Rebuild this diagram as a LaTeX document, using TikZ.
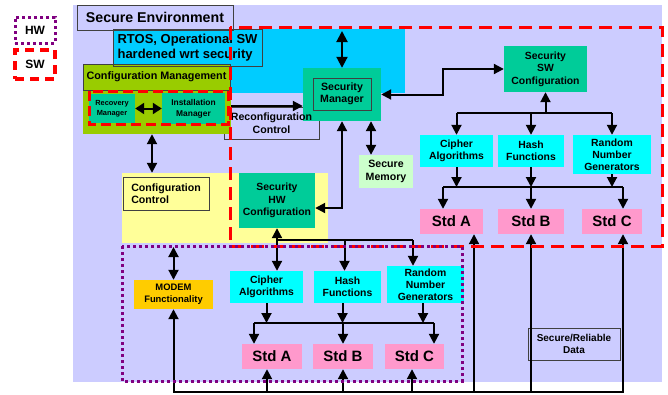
\documentclass[tikz,border=0pt]{standalone}
\usepackage{fontspec}
\setmainfont{Liberation Sans}
\usetikzlibrary{arrows.meta,calc}
\definecolor{lav}{HTML}{CCCCFF}
\definecolor{cyanA}{HTML}{00CCFF}
\definecolor{cyanB}{HTML}{00FFFF}
\definecolor{tealG}{HTML}{00CC99}
\definecolor{oliveG}{HTML}{99CC00}
\definecolor{yellowL}{HTML}{FFFF99}
\definecolor{pinkS}{HTML}{FF99CC}
\definecolor{orangeM}{HTML}{FFCC00}
\definecolor{memG}{HTML}{CCFFCC}
\definecolor{purpleH}{HTML}{800080}
\definecolor{redS}{HTML}{FF0000}
\newcommand\fs[2]{\fontsize{#1}{#2}\selectfont}
\newcommand\mybox[7]{\node[#6, minimum width={(#4-#2)*1pt}, minimum height={(#5-#3)*1pt}] (#1) at ({(#2+#4)/2},{(#3+#5)/2}) {#7};}
\begin{document}
\begin{tikzpicture}[x=1pt,y=-1pt,
  >={Triangle[length=10pt,width=10pt]},
  fb/.style={inner sep=0pt, align=center, font=\bfseries\fs{10.6}{12.5}},
  bd/.style={draw=black!75, line width=0.8pt},
  std/.style={fb, fill=pinkS, font=\bfseries\fs{15}{16}},
  alg/.style={fb, fill=cyanB, font=\bfseries\fs{10.4}{12}},
  con/.style={line width=2pt, draw=black},
  arr/.style={con, ->},
  dbl/.style={con, <->},
  swd/.style={draw=redS, line width=3pt, dash pattern=on 13pt off 7pt},
  hwd/.style={draw=purpleH, line width=3pt, dash pattern=on 3pt off 3pt}]
\useasboundingbox (0,0) rectangle (668,394);
\fill[white] (0,0) rectangle (668,394);
\fill[lav] (73,5) rectangle (662,382);
\fill[cyanA] (113,29) rectangle (405,93);
\mybox{reconf}{224}{107}{319}{139}{bd, inner sep=0pt}{}
\mybox{cmreg}{83}{64}{231}{134}{fill=oliveG, inner sep=0pt}{}
\mybox{ccreg}{122}{173}{328}{243}{fill=yellowL, inner sep=0pt}{}
\mybox{senv}{77}{5}{233}{30}{fb, bd, fill=lav, font=\bfseries\fs{14.2}{16}}{Secure Environment}
\mybox{rtos}{113}{29}{262}{66}{fb, bd, align=left, font=\bfseries\fs{13}{15.5}}{RTOS, Operational SW\\hardened wrt security}
\mybox{cmgmt}{83}{64}{230}{90}{fb, bd, font=\bfseries\fs{10.8}{12}}{Configuration Management}
\mybox{rec}{89}{94}{135}{123}{fb, fill=tealG, font=\bfseries\fs{7.4}{10}}{Recovery\\Manager}
\mybox{inst}{162}{93}{225}{124}{fb, fill=tealG, font=\bfseries\fs{8.4}{11}}{Installation\\Manager}
\mybox{smgr}{303}{68}{381}{121}{fill=tealG, inner sep=0pt}{}
\mybox{smgrin}{313}{78}{371}{110}{fb, bd}{Security\\Manager}
\node[fb] (reconftxt) at (reconf.center) {Reconfiguration\\Control};
\mybox{secsw}{504}{46}{587}{92}{fb, fill=tealG, font=\bfseries\fs{10.4}{12.5}}{Security\\SW\\Configuration}
\mybox{smem}{359}{155}{413}{188}{fb, fill=memG}{Secure\\Memory}
\mybox{cipA}{420}{135}{493}{167}{alg}{Cipher\\Algorithms}
\mybox{hashA}{498}{135}{564}{167}{alg}{Hash\\Functions}
\mybox{rngA}{573}{135}{651}{174}{alg}{Random\\Number\\Generators}
\mybox{sA}{420}{209}{483}{234}{std}{Std A}
\mybox{sB}{498}{209}{564}{234}{std}{Std B}
\mybox{sC}{582}{209}{642}{234}{std}{Std C}
\mybox{cctl}{123}{177}{209}{210}{fb, bd, align=left}{Configuration\\Control}
\mybox{sechw}{239}{173}{315}{228}{fb, fill=tealG, font=\bfseries\fs{10.4}{12.5}}{Security\\HW\\Configuration}
\mybox{modem}{134}{280}{213}{309}{fb, fill=orangeM, font=\bfseries\fs{9.4}{12}}{MODEM\\Functionality}
\mybox{cipB}{230}{271}{303}{303}{alg}{Cipher\\Algorithms}
\mybox{hashB}{314}{271}{381}{303}{alg}{Hash\\Functions}
\mybox{rngB}{387}{266}{464}{303}{alg}{Random\\Number\\Generators}
\mybox{hA}{242}{344}{302}{369}{std}{Std A}
\mybox{hB}{313}{344}{373}{369}{std}{Std B}
\mybox{hC}{385}{344}{444}{369}{std}{Std C}
\mybox{srd}{528}{328}{620}{360}{fb, bd, font=\bfseries\fs{10}{12.5}}{Secure/Reliable\\Data}
% connectors
\draw[con, <->, >={Triangle[length=9pt,width=11pt]}] (rec.east) -- (inst.west);
\draw[arr] (cmreg.east |- 0,106) -- (smgr.west |- 0,106);
\draw[dbl, >={Triangle[length=11pt,width=11pt]}] (smgr.north |- 0,31) -- (smgr.north);
\draw[dbl] (smgr.east) -| ($(smgr.east)!.5!(secsw.west)$) |- (secsw.west);
\coordinate (m1) at ([xshift=29pt]smgr.south);
\draw[dbl] (m1) -- (m1 |- smem.north);
\draw[dbl] (smgr.south) |- ([yshift=-7.5pt]sechw.east);
\coordinate (c1) at (cmreg.south -| 152,0);
\draw[dbl] (c1) -- (c1 |- ccreg.north);
% SW tree
\coordinate (t1) at (secsw.south |- 0,113);
\draw[arr] (t1) -- (secsw.south);
\draw[con] (cipA.north |- t1) -- (rngA.north |- t1);
\draw[arr] (cipA.north |- t1) -- (cipA.north);
\draw[arr] (hashA.north |- t1) -- (hashA.north);
\draw[arr] (rngA.north |- t1) -- (rngA.north);
\coordinate (b1) at (0,187);
\draw[arr] (cipA.south) -- (cipA.south |- b1);
\draw[arr] (hashA.south) -- (hashA.south |- b1);
\draw[arr] (rngA.south) -- (rngA.south |- b1);
\coordinate (sAi) at ([xshift=-8.5pt]sA.north);
\coordinate (sCi) at ([xshift=11pt]sC.north);
\draw[con] (sAi |- b1) -- (sCi |- b1);
\draw[arr] (sAi |- b1) -- (sAi);
\draw[arr] (sB.north |- b1) -- (sB.north);
\draw[arr] (sCi |- b1) -- (sCi);
% modem
\draw[dbl] (modem.north |- 0,247) -- (modem.north);
% HW tree
\coordinate (t2) at (0,240);
\coordinate (rBi) at ([xshift=-12.5pt]rngB.north);
\coordinate (hBi) at ([xshift=-3pt]hashB.north);
\draw[dbl] (sechw.south) -- (sechw.south |- cipB.north);
\draw[con] (sechw.south |- t2) -- (rBi |- t2);
\draw[arr] (hBi |- t2) -- (hBi);
\draw[arr] (rBi |- t2) -- (rBi);
\coordinate (b2) at (0,323);
\coordinate (hBo) at ([xshift=-5pt]hashB.south);
\coordinate (rBo) at ([xshift=-2.5pt]rngB.south);
\draw[arr] (cipB.south) -- (cipB.south |- b2);
\draw[arr] (hBo) -- (hBo |- b2);
\draw[arr] (rBo) -- (rBo |- b2);
\coordinate (hAi) at ([xshift=-18pt]hA.north);
\coordinate (hCi) at ([xshift=19.5pt]hC.north);
\draw[con] (hAi |- b2) -- (hCi |- b2);
\draw[arr] (hAi |- b2) -- (hAi);
\draw[arr] (hB.north |- b2) -- (hB.north);
\draw[arr] (hCi |- b2) -- (hCi);
% bottom bus
\coordinate (bus) at (0,392);
\coordinate (hAo) at ([xshift=-5pt]hA.south);
\coordinate (hCo) at ([xshift=-2.5pt]hC.south);
\coordinate (sAo) at ([xshift=22.5pt]sA.south);
\coordinate (sCo) at ([xshift=11pt]sC.south);
\draw[con, line cap=rect] (modem.south |- bus) -- (sCo |- bus);
\draw[arr] (modem.south |- bus) -- (modem.south);
\draw[arr] (hAo |- bus) -- (hAo);
\draw[arr] (hB.south |- bus) -- (hB.south);
\draw[arr] (hCo |- bus) -- (hCo);
\draw[arr] (sAo |- bus) -- (sAo);
\draw[arr] (sB.south |- bus) -- (sB.south);
\draw[arr] (sCo |- bus) -- (sCo);
% regions
\draw[swd] (230,27) rectangle (662,246);
\draw[hwd] (122,246) rectangle (462,381);
\draw[swd, dash pattern=on 10pt off 5pt] (89,91) rectangle (228,124);
% legend
\mybox{hw}{15}{17}{55}{43}{fb, hwd, font=\bfseries\fs{12}{14}}{HW}
\mybox{sw}{15}{50}{55}{79}{fb, swd, line width=3.5pt, dash pattern=on 9pt off 6pt, font=\bfseries\fs{12}{14}}{SW}
\end{tikzpicture}
\end{document}
